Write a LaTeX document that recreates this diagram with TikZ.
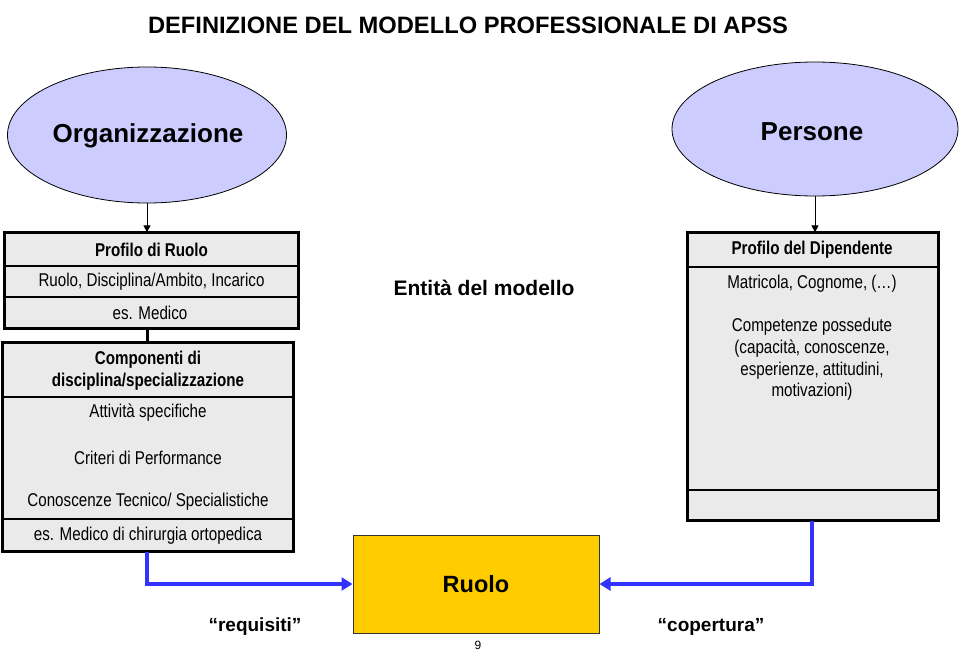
\documentclass[tikz,border=0pt]{standalone}
\usepackage{fontspec}
\setmainfont{Liberation Sans}
\newfontfamily\nf{Liberation Sans}[FakeStretch=0.82]
\usetikzlibrary{shapes.geometric,arrows.meta}
\definecolor{lav}{HTML}{CCCCFF}
\definecolor{boxgray}{HTML}{EAEAEA}
\definecolor{gold}{HTML}{FFCC00}
\definecolor{arrblue}{HTML}{3333FF}
\begin{document}
\begin{tikzpicture}[x=1pt,y=-1pt,
  oval/.style={ellipse, draw=black, line width=0.8pt, fill=lav, inner sep=0pt,
    font=\bfseries\fontsize{26}{30}\selectfont},
  rowbox/.style={rectangle, draw=black, line width=1.3pt, fill=boxgray, inner sep=0pt},
  outer/.style={draw=black, line width=3pt},
  txt/.style={inner sep=0pt, align=center, font=\nf\fontsize{18.5}{21.7}\selectfont},
  txtb/.style={txt, font=\nf\bfseries\fontsize{18.5}{22.5}\selectfont},
  darr/.style={draw=black, line width=1pt, -{Triangle[length=7pt,width=7pt]}},
  barr/.style={draw=arrblue, line width=4pt, -{Triangle[length=11pt,width=13pt]}},
  quote/.style={inner sep=0pt, font=\bfseries\fontsize{19}{22}\selectfont}
]
\useasboundingbox (0,0) rectangle (960,651);

% title
\node[inner sep=0pt, font=\bfseries\fontsize{23.7}{28}\selectfont] (title) at (468,25)
  {DEFINIZIONE DEL MODELLO PROFESSIONALE DI APSS};

% ellipses
\node[oval, minimum width=279pt, minimum height=136pt] (org) at (147,135) {};
\node[inner sep=0pt, font=\bfseries\fontsize{26}{30}\selectfont] (orgt) at (148,136) {Organizzazione};
\node[oval, minimum width=286pt, minimum height=134pt] (pers) at (815,129) {};
\node[inner sep=0pt, font=\bfseries\fontsize{26}{30}\selectfont] (perst) at (812,132) {Persone};

% box 1: Profilo di Ruolo
\node[rowbox, minimum width=293pt, minimum height=33pt] (h1) at (151.5,249.5) {};
\node[rowbox, minimum width=293pt, minimum height=31pt] (r1b) at (151.5,281.5) {};
\node[rowbox, minimum width=293pt, minimum height=31pt] (r1c) at (151.5,312.5) {};
\draw[outer] (h1.north west) rectangle (r1c.south east);
\node[txtb] (h1t) at (151.5,250) {Profilo di Ruolo};
\node[txt] (r1bt) at (151.5,282) {Ruolo, Disciplina/Ambito, Incarico};
\node[txt] (r1ct) at (150,313) {es. Medico};

% box 2: Componenti
\node[rowbox, minimum width=290pt, minimum height=54pt] (h2) at (148,370) {};
\node[rowbox, minimum width=290pt, minimum height=122pt] (b2) at (148,458) {};
\node[rowbox, minimum width=290pt, minimum height=32pt] (c2) at (148,535) {};
\draw[outer] (h2.north west) rectangle (c2.south east);
\node[txtb] (h2t) at (148,370.5) {Componenti di\\disciplina/specializzazione};
\node[txt] (b2a) at (148,413) {Attività specifiche};
\node[txt] (b2b) at (148,458) {Criteri di Performance};
\node[txt] (b2c) at (148,502) {Conoscenze Tecnico/ Specialistiche};
\node[txt] (c2t) at (148,535.5) {es. Medico di chirurgia ortopedica};

% box 3: Profilo del Dipendente
\node[rowbox, minimum width=250pt, minimum height=34pt] (h3) at (813,250) {};
\node[rowbox, minimum width=250pt, minimum height=223pt] (b3) at (813,378.5) {};
\node[rowbox, minimum width=250pt, minimum height=30pt] (c3) at (813,505) {};
\draw[outer] (h3.north west) rectangle (c3.south east);
\node[txtb] (h3t) at (812,250) {Profilo del Dipendente};
\node[txt] (b3a) at (812,284) {Matricola, Cognome, (…)};
\node[txt, anchor=north] (b3b) at (812,318) {Competenze possedute\\(capacità, conoscenze,\\esperienze, attitudini,\\motivazioni)};

% middle label
\node[inner sep=0pt, font=\bfseries\fontsize{21}{25}\selectfont] (ent) at (484,288) {Entità del modello};

% Ruolo
\node[rectangle, draw=black!80, line width=1pt, fill=gold, minimum width=246pt, minimum height=98pt,
  font=\bfseries\fontsize{23.5}{28}\selectfont] (ruolo) at (476,584) {Ruolo};

% connectors
\draw[darr] (org.south) -- (org.south |- h1.north);
\draw[darr] (pers.south) -- (pers.south |- h3.north);
\draw[draw=black, line width=3pt] (org.south |- r1c.south) -- (org.south |- h2.north);
\draw[barr] (org.south |- c2.south) |- (ruolo.west);
\draw[barr] ([xshift=-1pt]c3.south) |- (ruolo.east);

% labels
\node[quote] (req) at (255,627) {“requisiti”};
\node[quote] (cop) at (711,627) {“copertura”};
\node[inner sep=0pt, font=\fontsize{12}{14}\selectfont] (pg) at (478,645) {9};
\end{tikzpicture}
\end{document}
